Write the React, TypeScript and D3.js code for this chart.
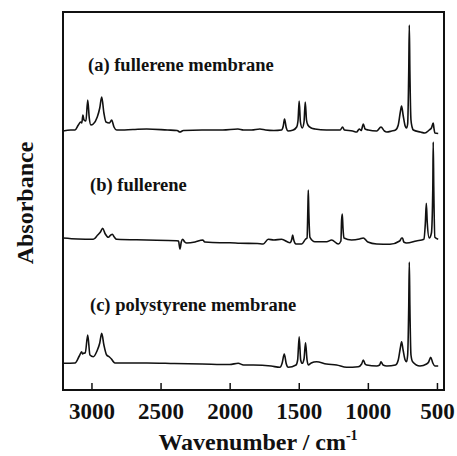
import { useEffect, useRef } from "react";
import * as d3 from "d3";

// wavenumber (cm-1), absorbance (a.u., relative to each trace's own baseline)
const fullereneMembrane: [number, number][] = [
  [3206, -0.01], [3150, 0], [3119, 0], [3095, 0.05], [3078, 0.08], [3070, 0.07], [3062, 0.15],
  [3054, 0.1], [3040, 0.09], [3027, 0.3], [3016, 0.12], [3004, 0.05], [2987, 0.06], [2958, 0.13],
  [2940, 0.22], [2926, 0.33], [2910, 0.17], [2895, 0.08], [2870, 0.07], [2854, 0.1], [2837, 0.03],
  [2818, 0], [2700, 0.005], [2600, 0.01], [2450, 0], [2380, -0.005], [2360, -0.02], [2335, -0.005],
  [2200, 0], [2050, 0], [1940, 0.01], [1900, 0], [1841, 0], [1781, 0.01], [1740, 0], [1680, -0.005],
  [1625, 0], [1612, 0.04], [1603, 0.11], [1590, 0.02], [1578, -0.01], [1540, 0], [1515, 0.03],
  [1505, 0.1], [1497, 0.29], [1488, 0.08], [1475, 0.02], [1462, 0.08], [1453, 0.28], [1444, 0.1],
  [1434, 0.05], [1410, 0.02], [1383, 0.01], [1300, 0], [1200, 0], [1183, 0.03], [1170, 0],
  [1110, -0.01], [1081, -0.02], [1062, 0.01], [1048, -0.005], [1033, 0.06], [1020, 0.01], [997, 0],
  [936, -0.01], [905, 0.03], [880, -0.01], [863, -0.02], [828, -0.01], [800, 0], [780, 0.05],
  [765, 0.18], [756, 0.24], [745, 0.15], [730, 0.04], [720, 0.02], [712, 0.06], [704, 0.6],
  [700, 1.05], [696, 0.6], [688, 0.1], [680, 0.03], [671, 0], [620, -0.02], [587, -0.03], [556, 0],
  [540, 0.02], [527, 0.07], [522, 0.02], [515, -0.03], [491, -0.035],
];

const fullerene: [number, number][] = [
  [3206, 0], [3100, -0.01], [2987, -0.013], [2955, 0.03], [2935, 0.06], [2919, 0.097], [2900, 0.04],
  [2878, 0.007], [2860, 0.03], [2849, 0.037], [2835, 0.01], [2818, -0.013], [2600, -0.02],
  [2384, -0.027], [2370, -0.03], [2360, -0.11], [2350, -0.04], [2340, -0.013], [2325, -0.04],
  [2311, -0.05], [2250, -0.04], [2195, -0.02], [2180, -0.04], [2070, -0.047], [1998, -0.047],
  [1925, -0.053], [1800, -0.055], [1757, -0.06], [1721, -0.013], [1680, -0.02], [1624, -0.013],
  [1564, -0.047], [1550, -0.01], [1544, 0.03], [1538, -0.01], [1520, -0.06], [1479, -0.06],
  [1450, -0.01], [1440, 0], [1434, 0.3], [1431, 0.48], [1427, 0.25], [1419, 0.007], [1383, -0.037],
  [1298, -0.037], [1262, -0.02], [1214, -0.06], [1195, -0.03], [1190, 0.18], [1185, 0.24],
  [1180, 0.1], [1173, 0], [1118, -0.02], [1060, -0.01], [1033, 0], [1000, -0.04], [936, -0.06],
  [840, -0.063], [770, -0.03], [755, 0], [749, 0], [740, -0.04], [720, -0.05], [650, -0.03],
  [594, -0.013], [584, 0.15], [577, 0.347], [570, 0.15], [556, 0], [540, 0.05], [530, 0.5],
  [527, 0.96], [523, 0.5], [515, 0.007], [491, -0.013],
];

const polystyreneMembrane: [number, number][] = [
  [3206, 0.017], [3119, 0.02], [3088, 0.09], [3071, 0.133], [3065, 0.11], [3059, 0.117], [3045, 0.12],
  [3027, 0.3], [3011, 0.1], [2987, 0.083], [2960, 0.14], [2940, 0.22], [2926, 0.317], [2910, 0.2],
  [2890, 0.1], [2870, 0.08], [2854, 0.057], [2840, 0.03], [2830, 0.02], [2600, 0.02], [2400, 0.015],
  [2200, 0.01], [2000, 0.005], [1938, 0.017], [1900, 0], [1829, 0], [1700, -0.01], [1636, -0.023],
  [1620, 0.02], [1605, 0.11], [1590, 0.01], [1576, -0.023], [1520, 0], [1508, 0.05], [1497, 0.283],
  [1486, 0.05], [1475, 0.017], [1462, 0.06], [1451, 0.223], [1440, 0.05], [1431, 0], [1410, 0.02],
  [1371, 0.033], [1300, 0.01], [1226, 0], [1154, -0.023], [1069, -0.017], [1045, 0.01], [1033, 0.05],
  [1020, 0.01], [1009, 0], [936, -0.01], [915, 0], [905, 0.033], [890, 0], [863, -0.01], [800, 0],
  [780, 0.05], [765, 0.17], [756, 0.233], [745, 0.15], [730, 0.05], [720, 0.033], [712, 0.1],
  [704, 0.6], [700, 1.03], [696, 0.6], [688, 0.1], [676, 0.033], [623, -0.01], [575, 0.01],
  [560, 0.03], [545, 0.077], [530, 0.02], [515, -0.01], [491, -0.01],
];

const traceLabels = ["(a) fullerene membrane", "(b) fullerene", "(c) polystyrene membrane"];
const traceOffsets = [2.6, 1.52, 0.25];
const xTicks = [3000, 2500, 2000, 1500, 1000, 500];

const FONT = "'Liberation Serif', 'Times New Roman', serif";

const App = () => {
  const ref = useRef<SVGSVGElement>(null);

  useEffect(() => {
    const svg = d3.select(ref.current);
    svg.selectAll("*").remove();

    const left = 63, right = 444, top = 12, bottom = 390;

    const x = d3.scaleLinear().domain([3206, 449]).range([left, right]);
    const y = d3.scaleLinear().domain([0, 3.78]).range([bottom, top]);

    const traces = [fullereneMembrane, fullerene, polystyreneMembrane];

    // spectra
    traces.forEach((data, i) => {
      const line = d3.line<[number, number]>()
        .x(d => x(d[0]))
        .y(d => y(d[1] + traceOffsets[i]))
        .curve(d3.curveMonotoneX);

      svg.append("path")
        .datum(data)
        .attr("d", line)
        .attr("fill", "none")
        .attr("stroke", "#111")
        .attr("stroke-width", 1.6)
        .attr("stroke-linejoin", "round");
    });

    // trace labels
    const labelY = [71, 191, 311];
    traceLabels.forEach((t, i) => {
      svg.append("text")
        .attr("x", i === 0 ? 88 : 90)
        .attr("y", labelY[i])
        .attr("font-family", FONT)
        .attr("font-weight", "bold")
        .attr("font-size", 18.5)
        .attr("fill", "#111")
        .text(t);
    });

    // x axis, ticks pointing inward
    const xAxis = svg.append("g")
      .attr("transform", `translate(0,${bottom})`)
      .call(d3.axisBottom(x).tickValues(xTicks).tickSizeInner(-7).tickSizeOuter(0).tickPadding(13).tickFormat(d3.format("d")));

    xAxis.select(".domain").remove();
    xAxis.selectAll("line").attr("stroke", "#111").attr("stroke-width", 1.5);
    xAxis.selectAll("text")
      .attr("font-family", FONT)
      .attr("font-weight", "bold")
      .attr("font-size", 23)
      .attr("fill", "#111");

    // frame
    svg.append("rect")
      .attr("x", left)
      .attr("y", top)
      .attr("width", right - left)
      .attr("height", bottom - top)
      .attr("fill", "none")
      .attr("stroke", "#111")
      .attr("stroke-width", 2);

    // x axis title
    const xt = svg.append("text")
      .attr("x", 258)
      .attr("y", 450)
      .attr("text-anchor", "middle")
      .attr("font-family", FONT)
      .attr("font-weight", "bold")
      .attr("font-size", 24)
      .attr("fill", "#111");
    xt.append("tspan").text("Wavenumber / cm");
    xt.append("tspan").attr("font-size", 14).attr("dy", -10).text("-1");

    // y axis title
    svg.append("text")
      .attr("transform", "translate(33,203) rotate(-90)")
      .attr("text-anchor", "middle")
      .attr("font-family", FONT)
      .attr("font-weight", "bold")
      .attr("font-size", 24)
      .attr("fill", "#111")
      .text("Absorbance");
  }, []);

  return (
    <svg
      ref={ref}
      width={457}
      height={456}
      style={{ position: "absolute", left: 0, top: 0, background: "#fff" }}
    />
  );
};

export default App;
